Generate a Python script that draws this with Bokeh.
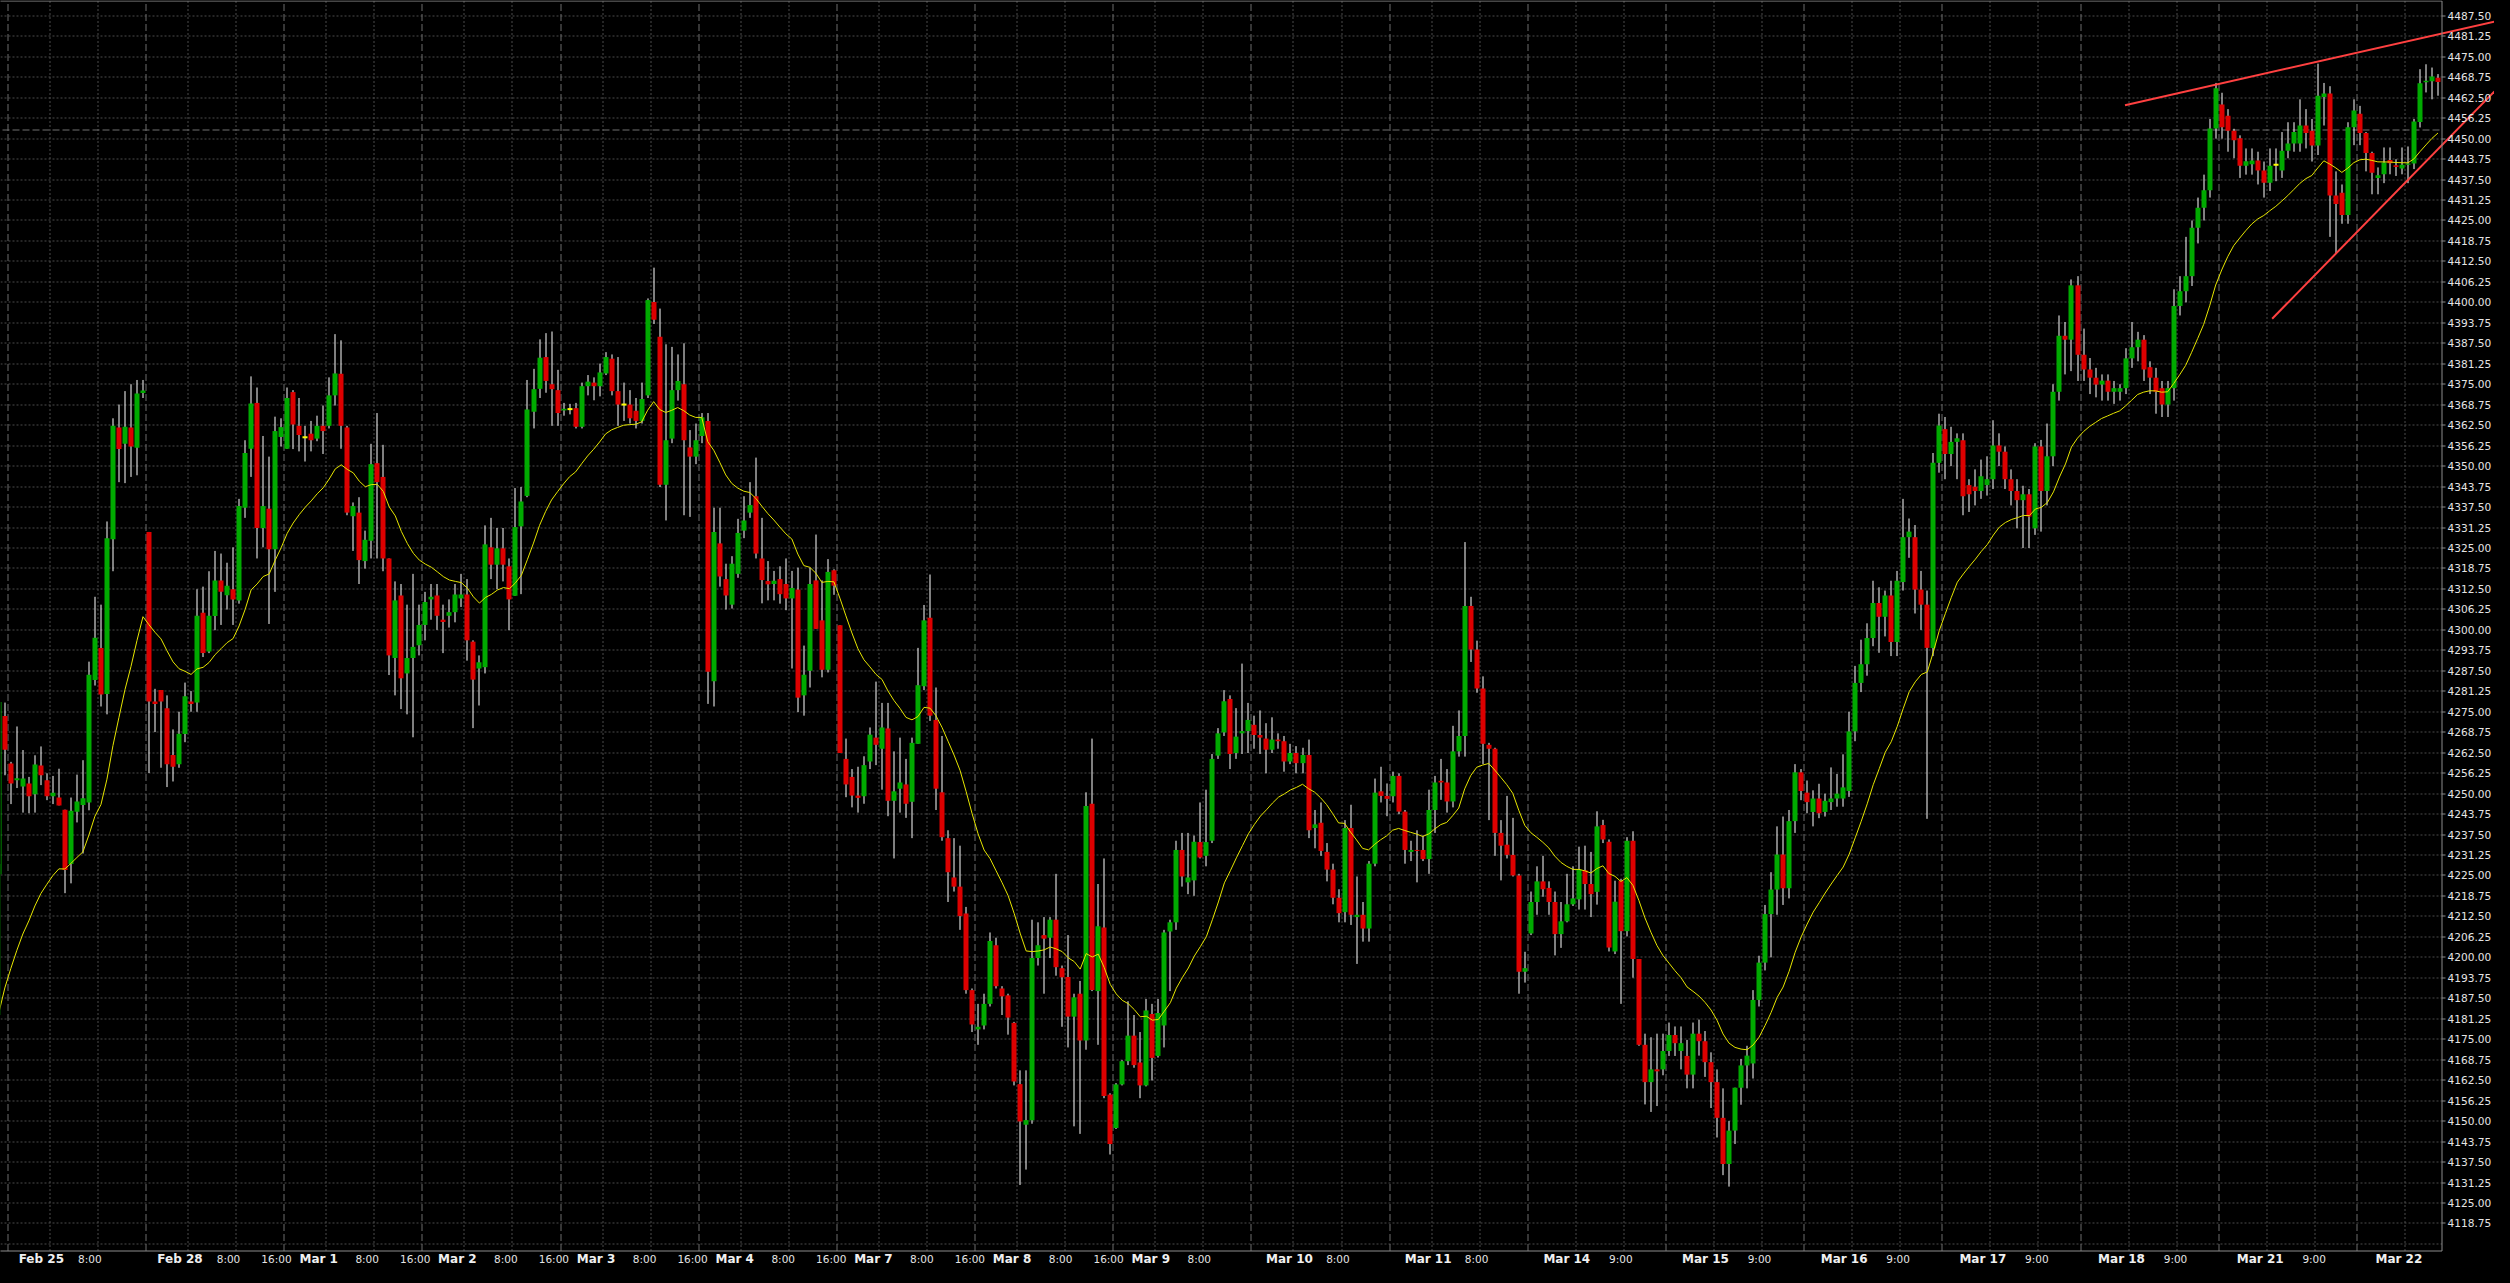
import numpy as np
from bokeh.plotting import figure
from bokeh.models import Range1d
from bokeh.core.properties import value
from bokeh.embed import file_html
from bokeh.resources import INLINE

# ---------------- data (hourly candles, one row per trading day) ----------------
opens = [
    4182.4, 4225.4, 4273.7,
    4259.2, 4254.1, 4252.2, 4253.1, 4249.8, 4258.6, 4254.1, 4249.2, 4248.8, 4245.1, 4228.5, 4244.5, 4246.5, 4247.3, 4284.7, 4294.5, 4280.4, 4327.7, 4361.8, 4356.8, 4361.8, 4355.6, 4372.3,
    4329.9, 4278.1, 4281.6, 4276.1, 4261.8, 4259.0, 4268.2, 4278.1, 4277.8, 4305.2, 4293.4, 4304.2, 4315.1, 4310.6, 4312.4, 4309.0, 4337.3, 4355.3, 4369.3, 4331.1, 4337.0, 4324.6, 4358.9,
    4355.3, 4372.6, 4362.3, 4358.8, 4359.9, 4358.4, 4362.3, 4362.3, 4371.6, 4378.2, 4361.8, 4334.7, 4335.8, 4321.0, 4327.2, 4350.9, 4346.7, 4321.8, 4291.4, 4310.5, 4286.7, 4291.4, 4295.3,
    4301.5, 4309.3, 4310.5, 4303.1, 4304.3, 4305.4, 4309.6, 4310.8, 4296.4, 4288.2, 4288.6, 4325.2, 4319.9, 4324.9, 4319.4, 4310.4, 4331.6, 4340.9, 4366.6, 4373.6, 4383.3, 4375.0, 4373.2,
    4367.0, 4367.4, 4367.7, 4362.0, 4374.4, 4375.5, 4374.4, 4378.3, 4382.8, 4372.9, 4368.8, 4368.8, 4366.9, 4363.8, 4371.6, 4400.1, 4389.5, 4344.3, 4358.4, 4373.2, 4375.0, 4355.7, 4352.9,
    4359.2, 4363.8, 4284.3, 4326.4, 4315.5, 4307.7, 4317.1, 4330.3, 4335.8, 4340.8, 4321.8, 4314.9, 4314.0, 4315.5, 4314.0, 4309.6, 4312.3, 4280.0, 4287.5, 4315.1, 4302.9, 4287.8, 4318.2,
    4301.4, 4260.6, 4255.1, 4249.4, 4249.2, 4259.8, 4267.1, 4263.7, 4269.9, 4247.8, 4251.5, 4252.8, 4247.5, 4265.2, 4282.8, 4303.7, 4272.5, 4250.4, 4236.4, 4224.4, 4221.6, 4213.4, 4190.0,
    4178.0, 4179.2, 4185.8, 4203.7, 4190.5, 4188.4, 4180.0, 4161.3, 4148.9, 4150.3, 4199.8, 4206.8, 4206.0, 4211.5, 4196.7, 4194.0, 4181.9, 4188.9, 4174.6, 4246.9, 4189.7, 4209.1, 4158.1,
    4147.9, 4161.2, 4168.3, 4176.1, 4167.9, 4160.9, 4182.7, 4169.9, 4179.2, 4207.9, 4210.7, 4232.8, 4222.9, 4223.5, 4235.2, 4231.0, 4235.6, 4261.6, 4268.7, 4278.9, 4262.4, 4268.4, 4269.1,
    4271.0, 4267.9, 4266.8, 4263.4, 4266.5, 4266.0, 4259.8, 4262.4, 4259.3, 4261.8, 4239.5, 4241.1, 4232.2, 4226.8, 4218.2, 4213.8, 4239.5, 4212.3, 4213.0, 4208.8, 4228.6, 4250.7, 4249.3,
    4249.2, 4255.4, 4244.5, 4232.2, 4232.8, 4232.8, 4230.0, 4245.0, 4253.9, 4253.4, 4247.6, 4262.9, 4267.6, 4307.3, 4294.0, 4282.1, 4264.9, 4263.7, 4238.0, 4234.4, 4231.3, 4225.0, 4195.6,
    4207.3, 4216.9, 4223.2, 4221.2, 4216.9, 4207.1, 4211.0, 4216.2, 4217.7, 4226.6, 4222.4, 4220.0, 4240.4, 4235.3, 4201.8, 4223.4, 4208.0, 4235.6, 4199.5, 4173.3, 4161.9, 4165.8, 4165.8,
    4171.4, 4176.3, 4171.4, 4169.9, 4164.2, 4176.7, 4174.4, 4168.0, 4161.9, 4151.0, 4136.9, 4147.1, 4160.2, 4167.0, 4167.6, 4187.0, 4198.4, 4213.2, 4220.7, 4231.4, 4221.1, 4241.6, 4256.5,
    4250.3, 4244.4, 4248.5, 4244.4, 4247.4, 4248.5, 4248.5, 4250.8, 4269.0, 4283.8, 4289.5, 4297.5, 4308.2, 4304.0, 4310.5, 4296.3, 4314.6, 4328.3, 4328.3, 4312.3, 4307.7, 4294.5, 4351.0,
    4361.3, 4353.7, 4357.4, 4357.9, 4344.2, 4343.7, 4342.4, 4344.2, 4346.0, 4356.3, 4354.4, 4346.0, 4342.4, 4339.6, 4341.4, 4331.0, 4356.0, 4342.4, 4353.0, 4372.7, 4389.8, 4388.6, 4405.2,
    4384.0, 4379.5, 4377.0, 4374.9, 4376.1, 4372.7, 4372.7, 4373.8, 4382.9, 4386.3, 4388.6, 4380.2, 4377.0, 4373.8, 4368.8, 4373.8, 4398.9, 4403.4, 4408.0, 4422.8, 4428.9, 4434.2, 4453.1,
    4460.4, 4457.0, 4452.4, 4450.1, 4441.7, 4442.2, 4443.3, 4440.3, 4436.5, 4442.0, 4440.3, 4446.3, 4448.5, 4448.5, 4454.0, 4452.4, 4447.9, 4462.7, 4463.8, 4432.6, 4433.5, 4426.7, 4453.5,
    4457.6, 4451.7, 4445.6, 4438.0, 4439.1, 4443.5, 4441.9, 4440.9, 4442.0, 4442.4, 4455.1, 4467.2, 4467.5, 4468.6,
]

highs = [
    4232.5, 4282.1, 4277.8,
    4259.7, 4270.5, 4263.3, 4255.1, 4261.7, 4264.4, 4256.2, 4255.4, 4257.6, 4245.1, 4248.8, 4255.8, 4260.2, 4290.3, 4310.1, 4307.7, 4333.1, 4364.6, 4368.8, 4372.9, 4375.0, 4376.3, 4376.3,
    4329.9, 4282.0, 4281.6, 4280.0, 4269.6, 4275.0, 4283.9, 4281.3, 4312.4, 4313.2, 4317.9, 4324.1, 4323.3, 4320.5, 4325.2, 4340.0, 4357.9, 4377.4, 4374.0, 4359.2, 4352.9, 4365.1, 4364.6,
    4374.0, 4373.2, 4370.8, 4362.3, 4363.8, 4365.4, 4368.5, 4377.1, 4390.3, 4388.4, 4362.3, 4338.9, 4340.5, 4330.3, 4356.8, 4366.2, 4356.5, 4321.8, 4314.8, 4314.0, 4307.7, 4317.1, 4307.7,
    4311.6, 4314.0, 4314.0, 4307.7, 4309.3, 4314.0, 4317.1, 4315.5, 4296.8, 4292.2, 4331.9, 4334.2, 4331.1, 4331.1, 4321.8, 4343.3, 4343.6, 4376.3, 4379.7, 4388.7, 4390.6, 4391.1, 4379.4,
    4369.3, 4369.0, 4369.3, 4375.5, 4377.8, 4377.1, 4381.3, 4384.8, 4384.1, 4383.3, 4375.5, 4373.2, 4370.8, 4375.5, 4401.2, 4410.6, 4398.1, 4387.2, 4386.4, 4384.1, 4387.5, 4361.0, 4363.0,
    4366.2, 4366.2, 4337.3, 4337.3, 4320.2, 4322.5, 4333.9, 4340.8, 4345.1, 4352.6, 4334.2, 4321.0, 4318.0, 4319.4, 4321.8, 4318.0, 4319.0, 4295.2, 4319.0, 4329.1, 4315.1, 4321.6, 4318.5,
    4301.4, 4266.8, 4257.5, 4258.2, 4261.4, 4270.2, 4284.2, 4277.7, 4277.7, 4262.9, 4267.1, 4260.6, 4267.1, 4294.5, 4307.6, 4316.9, 4282.4, 4267.6, 4238.8, 4236.4, 4234.1, 4215.4, 4190.5,
    4185.8, 4188.9, 4207.6, 4206.0, 4191.2, 4188.9, 4180.3, 4165.5, 4165.5, 4211.5, 4210.7, 4212.3, 4212.3, 4225.5, 4197.5, 4206.8, 4188.9, 4192.8, 4250.4, 4266.8, 4222.4, 4230.2, 4158.5,
    4161.6, 4168.6, 4186.6, 4182.4, 4177.2, 4187.3, 4185.8, 4187.3, 4208.4, 4211.5, 4235.6, 4238.0, 4238.0, 4237.2, 4247.3, 4251.2, 4262.1, 4270.0, 4281.6, 4280.0, 4276.1, 4289.7, 4277.7,
    4273.8, 4275.4, 4271.5, 4273.3, 4268.4, 4267.6, 4265.2, 4264.5, 4264.0, 4266.5, 4245.0, 4247.3, 4234.9, 4228.6, 4220.8, 4241.9, 4246.6, 4224.7, 4216.9, 4229.4, 4254.6, 4258.2, 4253.1,
    4256.7, 4256.2, 4245.0, 4235.6, 4238.8, 4237.2, 4251.2, 4255.4, 4260.6, 4257.5, 4270.7, 4275.4, 4326.8, 4310.1, 4296.7, 4285.8, 4265.5, 4264.0, 4241.9, 4249.3, 4242.6, 4225.5, 4201.7,
    4220.1, 4227.8, 4231.0, 4223.2, 4220.1, 4216.9, 4225.5, 4227.8, 4233.8, 4234.1, 4232.2, 4244.6, 4242.0, 4236.0, 4223.4, 4224.0, 4236.7, 4238.5, 4199.5, 4176.7, 4175.6, 4176.7, 4176.7,
    4180.1, 4178.9, 4178.9, 4174.8, 4180.1, 4181.0, 4177.5, 4171.0, 4165.8, 4160.0, 4150.0, 4160.2, 4169.0, 4173.0, 4190.0, 4200.5, 4216.0, 4226.0, 4240.0, 4243.0, 4245.0, 4259.0, 4257.5,
    4254.0, 4251.0, 4253.0, 4250.0, 4258.0, 4256.0, 4262.0, 4275.0, 4289.0, 4297.0, 4302.0, 4315.0, 4313.0, 4312.0, 4315.0, 4318.0, 4340.0, 4334.0, 4332.0, 4318.0, 4312.0, 4354.0, 4366.0,
    4365.0, 4362.0, 4360.0, 4360.0, 4346.0, 4349.0, 4352.0, 4353.0, 4364.0, 4360.0, 4356.0, 4349.0, 4346.0, 4344.0, 4343.0, 4357.0, 4358.0, 4363.0, 4375.0, 4396.0, 4394.0, 4407.0, 4408.0,
    4392.0, 4383.0, 4380.0, 4378.0, 4378.0, 4376.0, 4375.0, 4386.0, 4394.0, 4391.0, 4390.0, 4382.0, 4380.0, 4376.0, 4376.0, 4404.0, 4408.0, 4420.0, 4425.0, 4432.0, 4439.0, 4456.0, 4467.0,
    4464.0, 4459.0, 4453.0, 4451.0, 4447.0, 4447.0, 4446.0, 4443.0, 4447.0, 4447.0, 4452.0, 4455.0, 4455.0, 4462.0, 4459.0, 4456.0, 4472.9, 4467.0, 4466.0, 4440.0, 4436.0, 4455.0, 4462.0,
    4460.0, 4452.0, 4446.0, 4441.2, 4447.3, 4447.3, 4443.7, 4447.3, 4447.6, 4456.0, 4471.2, 4472.7, 4471.7, 4469.7,
]

lows = [
    4180.0, 4224.0, 4255.6,
    4246.8, 4251.7, 4244.2, 4244.0, 4244.2, 4252.6, 4248.0, 4246.8, 4246.4, 4219.6, 4222.6, 4241.2, 4231.7, 4244.9, 4283.0, 4276.6, 4274.2, 4317.9, 4345.1, 4344.8, 4346.7, 4347.2, 4370.8,
    4256.3, 4268.8, 4257.9, 4252.0, 4253.7, 4257.9, 4265.7, 4275.0, 4275.0, 4291.7, 4292.9, 4299.9, 4301.5, 4306.2, 4301.5, 4308.0, 4334.2, 4346.7, 4321.8, 4325.2, 4301.8, 4311.6, 4356.0,
    4355.3, 4355.2, 4354.5, 4351.4, 4354.5, 4357.6, 4353.7, 4361.5, 4368.5, 4355.3, 4335.0, 4324.1, 4314.0, 4318.7, 4321.8, 4321.8, 4317.9, 4286.2, 4280.0, 4275.8, 4274.2, 4267.2, 4292.2,
    4296.8, 4303.1, 4300.0, 4292.9, 4300.7, 4302.3, 4307.0, 4290.6, 4270.0, 4276.9, 4286.7, 4315.5, 4312.4, 4314.8, 4299.9, 4310.4, 4310.9, 4340.5, 4361.5, 4370.8, 4372.4, 4362.3, 4362.3,
    4365.4, 4365.8, 4361.5, 4361.5, 4371.6, 4370.1, 4371.3, 4377.8, 4371.6, 4362.3, 4363.8, 4363.0, 4361.5, 4363.0, 4370.8, 4393.4, 4343.6, 4333.4, 4357.0, 4370.0, 4335.0, 4334.5, 4350.6,
    4357.0, 4277.4, 4276.6, 4313.2, 4306.2, 4306.5, 4315.9, 4328.0, 4334.2, 4321.8, 4308.1, 4309.0, 4309.0, 4308.0, 4306.0, 4288.2, 4274.9, 4273.8, 4282.4, 4300.3, 4285.5, 4287.0, 4310.7,
    4262.4, 4248.9, 4245.8, 4244.2, 4246.9, 4257.5, 4258.7, 4251.2, 4243.1, 4230.2, 4244.2, 4242.6, 4236.4, 4265.2, 4281.6, 4272.2, 4245.0, 4235.6, 4216.9, 4220.1, 4208.4, 4188.9, 4177.2,
    4173.3, 4178.0, 4185.0, 4190.5, 4182.4, 4176.4, 4160.9, 4130.5, 4135.2, 4149.2, 4197.5, 4188.9, 4199.8, 4194.4, 4178.8, 4172.5, 4148.4, 4146.1, 4171.8, 4189.7, 4173.3, 4157.0, 4139.8,
    4147.6, 4160.9, 4167.1, 4166.3, 4157.0, 4160.6, 4162.4, 4169.4, 4172.5, 4189.7, 4208.4, 4221.6, 4219.3, 4218.8, 4230.2, 4227.8, 4234.9, 4260.6, 4267.6, 4257.5, 4260.6, 4262.1, 4262.4,
    4263.7, 4262.1, 4256.2, 4262.4, 4263.7, 4256.7, 4259.0, 4256.2, 4256.2, 4236.4, 4233.3, 4231.0, 4223.2, 4216.2, 4210.7, 4210.7, 4209.9, 4198.0, 4204.8, 4204.8, 4227.8, 4247.3, 4243.1,
    4247.3, 4243.7, 4228.6, 4229.4, 4222.9, 4229.4, 4225.5, 4238.0, 4248.1, 4244.2, 4245.8, 4261.3, 4261.3, 4290.2, 4280.8, 4259.0, 4241.9, 4231.0, 4223.5, 4230.2, 4224.7, 4188.9, 4192.3,
    4206.8, 4213.0, 4218.5, 4213.0, 4200.6, 4202.9, 4210.7, 4215.7, 4214.6, 4214.6, 4212.3, 4216.1, 4234.9, 4201.8, 4201.0, 4185.8, 4206.4, 4193.8, 4173.0, 4155.1, 4152.8, 4154.6, 4164.0,
    4169.9, 4169.9, 4165.8, 4160.0, 4160.0, 4170.0, 4163.5, 4154.0, 4145.0, 4133.5, 4130.0, 4143.0, 4155.0, 4160.0, 4163.0, 4185.0, 4196.0, 4200.0, 4213.0, 4216.0, 4218.0, 4238.0, 4248.0,
    4244.0, 4240.0, 4242.5, 4243.0, 4245.0, 4246.0, 4246.0, 4249.0, 4266.0, 4281.0, 4286.0, 4295.0, 4293.0, 4298.0, 4292.0, 4292.0, 4312.0, 4322.0, 4305.0, 4300.0, 4242.3, 4292.0, 4348.0,
    4346.0, 4350.0, 4346.0, 4335.0, 4336.0, 4338.0, 4340.0, 4341.0, 4343.0, 4350.0, 4343.0, 4338.0, 4331.0, 4325.0, 4325.0, 4329.0, 4330.0, 4338.0, 4350.0, 4370.0, 4378.0, 4379.0, 4376.0,
    4376.0, 4372.0, 4371.0, 4370.0, 4370.0, 4369.0, 4370.0, 4372.0, 4380.0, 4382.0, 4376.0, 4372.0, 4366.0, 4365.0, 4365.0, 4370.0, 4396.0, 4400.0, 4405.0, 4418.0, 4425.0, 4432.0, 4450.0,
    4450.0, 4446.0, 4444.0, 4438.0, 4439.0, 4439.0, 4436.0, 4432.0, 4434.0, 4437.0, 4438.0, 4444.0, 4446.0, 4446.0, 4447.0, 4443.0, 4445.0, 4454.0, 4420.0, 4415.0, 4424.0, 4424.0, 4448.0,
    4448.0, 4440.0, 4433.0, 4433.0, 4436.4, 4439.1, 4438.6, 4439.1, 4436.4, 4440.7, 4453.4, 4464.1, 4462.0, 4463.1,
]

closes = [
    4228.5, 4278.0, 4263.4,
    4253.1, 4254.7, 4254.6, 4249.2, 4258.9, 4255.6, 4249.2, 4250.3, 4246.4, 4226.7, 4244.8, 4247.6, 4248.6, 4286.3, 4297.6, 4280.3, 4328.0, 4362.3, 4355.2, 4362.0, 4356.0, 4372.2, 4373.1,
    4278.1, 4277.4, 4278.1, 4259.0, 4258.2, 4268.3, 4279.7, 4277.4, 4304.3, 4292.9, 4304.3, 4315.1, 4311.6, 4313.5, 4309.3, 4337.8, 4354.0, 4369.1, 4331.1, 4337.8, 4324.6, 4360.7, 4361.9,
    4370.8, 4362.7, 4359.5, 4358.8, 4357.9, 4362.3, 4360.7, 4371.6, 4378.3, 4362.3, 4335.8, 4337.8, 4321.3, 4327.5, 4350.6, 4345.1, 4321.8, 4292.2, 4309.0, 4285.2, 4291.4, 4294.8, 4301.5,
    4308.5, 4310.1, 4304.3, 4302.4, 4305.4, 4310.8, 4310.8, 4296.8, 4284.8, 4290.1, 4326.1, 4319.9, 4324.9, 4319.9, 4309.3, 4331.4, 4339.2, 4367.3, 4373.5, 4383.1, 4376.0, 4373.5, 4366.2,
    4367.5, 4367.4, 4362.0, 4374.4, 4375.8, 4374.4, 4378.6, 4383.3, 4372.9, 4368.8, 4368.8, 4364.6, 4363.8, 4370.5, 4400.7, 4394.7, 4344.3, 4357.9, 4373.2, 4376.0, 4357.9, 4352.9, 4357.9,
    4364.9, 4287.2, 4329.9, 4316.3, 4310.5, 4320.2, 4329.6, 4333.4, 4338.1, 4323.3, 4315.2, 4313.9, 4315.0, 4310.9, 4309.6, 4312.8, 4279.3, 4286.3, 4314.0, 4300.3, 4287.8, 4317.7, 4313.5,
    4262.4, 4252.8, 4249.4, 4248.7, 4258.7, 4268.0, 4264.9, 4270.2, 4247.8, 4250.7, 4253.4, 4246.9, 4265.5, 4283.1, 4302.9, 4273.8, 4251.5, 4236.7, 4226.0, 4221.6, 4212.6, 4190.0, 4179.5,
    4178.8, 4185.8, 4205.0, 4191.2, 4188.1, 4181.6, 4162.1, 4149.9, 4150.3, 4199.8, 4203.7, 4205.7, 4211.5, 4197.0, 4193.9, 4181.9, 4187.8, 4174.6, 4246.2, 4190.0, 4209.5, 4157.7, 4143.0,
    4161.2, 4168.3, 4176.1, 4167.1, 4160.9, 4183.8, 4169.3, 4183.0, 4207.6, 4210.7, 4232.8, 4224.7, 4224.4, 4235.3, 4230.5, 4235.2, 4260.6, 4268.4, 4278.2, 4262.1, 4267.4, 4269.1, 4272.5,
    4267.9, 4267.1, 4263.4, 4266.5, 4266.0, 4259.8, 4262.4, 4259.3, 4261.8, 4238.8, 4240.6, 4232.5, 4226.8, 4218.2, 4213.5, 4239.5, 4213.0, 4213.0, 4208.8, 4228.6, 4250.3, 4249.3, 4248.4,
    4255.4, 4244.5, 4232.8, 4232.8, 4232.5, 4230.0, 4245.0, 4253.4, 4253.4, 4247.6, 4262.9, 4267.6, 4307.3, 4294.0, 4282.1, 4265.2, 4263.7, 4238.0, 4234.1, 4231.3, 4225.0, 4195.6, 4196.7,
    4216.9, 4223.2, 4220.8, 4216.9, 4207.1, 4211.0, 4216.2, 4218.0, 4226.8, 4222.4, 4219.3, 4240.0, 4236.0, 4203.0, 4217.0, 4208.0, 4235.6, 4199.5, 4173.3, 4161.9, 4165.8, 4165.2, 4171.4,
    4176.3, 4173.8, 4173.8, 4164.2, 4176.7, 4174.4, 4168.0, 4161.9, 4151.0, 4136.9, 4147.1, 4160.2, 4167.0, 4170.0, 4187.0, 4198.4, 4213.2, 4220.7, 4231.4, 4221.1, 4241.6, 4256.5, 4250.8,
    4247.4, 4248.5, 4244.0, 4247.8, 4248.5, 4250.0, 4251.9, 4269.0, 4283.8, 4289.5, 4297.5, 4308.2, 4304.0, 4310.5, 4296.3, 4315.0, 4328.3, 4330.0, 4312.3, 4307.7, 4294.5, 4351.0, 4362.4,
    4353.7, 4357.4, 4358.5, 4340.8, 4341.4, 4342.4, 4346.9, 4346.0, 4356.3, 4354.4, 4346.0, 4342.4, 4339.6, 4341.4, 4334.6, 4356.0, 4342.4, 4353.0, 4372.7, 4389.8, 4388.6, 4405.2, 4384.0,
    4379.5, 4377.0, 4374.9, 4376.1, 4372.7, 4373.8, 4373.8, 4382.9, 4386.3, 4388.6, 4379.5, 4377.0, 4372.7, 4368.8, 4373.8, 4398.9, 4403.4, 4408.0, 4422.8, 4428.9, 4434.2, 4453.1, 4465.4,
    4453.5, 4452.4, 4449.5, 4441.7, 4443.1, 4443.3, 4440.3, 4436.5, 4441.7, 4442.0, 4446.3, 4448.5, 4452.0, 4454.0, 4451.7, 4447.9, 4463.1, 4463.8, 4432.6, 4430.0, 4426.7, 4453.5, 4458.6,
    4451.7, 4445.6, 4439.6, 4438.8, 4442.7, 4442.5, 4441.3, 4442.0, 4442.4, 4455.2, 4466.9, 4467.7, 4469.0, 4467.3,
]

MA_PERIOD = 20          # exponential moving average shown in yellow
MA_SEED = 4173.0        # indicator value at the first visible bar

day_names = ["Feb 25", "Feb 28", "Mar 1", "Mar 2", "Mar 3", "Mar 4", "Mar 7", "Mar 8", "Mar 9",
             "Mar 10", "Mar 11", "Mar 14", "Mar 15", "Mar 16", "Mar 17", "Mar 18", "Mar 21", "Mar 22"]
hour_names = [["8:00"]] + [["8:00", "16:00"]] * 7 + [["8:00"]] * 3 + [["9:00"]] * 6 + [[]]

price_ticks = [4118.75 + 6.25 * k for k in range(60)]
grid_prices = [4112.50 + 6.25 * k for k in range(61)]

hline_price = 4452.6
trend_upper = [(354.9, 4460.2), (417.75, 4486.3)]   # (bar, price)
trend_lower = [(379.4, 4395.0), (416.4, 4464.4)]

# ---------------- layout helpers (page pixels -> data) ----------------
PX_BAR = 6.0078     # pixels per bar
PX_PT = 3.275       # pixels per index point
X0 = 0.3            # page x of bar 0
YREF = 23.3         # page y of 4487.50
W, H = 2494, 1267

def px2x(X):
    return (X - X0) / PX_BAR

def py2p(Y):
    return 4487.5 - (Y - YREF) / PX_PT

def p2py(P):
    return YREF + (4487.5 - P) * PX_PT

def snap_price(P):
    return py2p(np.floor(p2py(np.asarray(P, dtype=float))) + 0.5)

XL, XR = px2x(0), px2x(2449.5)
YB, YT = py2p(1258.5), py2p(8.5)

p = figure(width=W, height=H, x_range=Range1d(px2x(8), px2x(8 + W)),
           y_range=Range1d(py2p(8 + H), py2p(8)), x_axis_type=None, y_axis_type=None,
           output_backend="svg", toolbar_location=None, min_border=0,
           background_fill_color="#000000", border_fill_color="#000000", outline_line_color=None)
p.grid.visible = False

# horizontal dotted grid
gy = snap_price(grid_prices)
p.segment(x0=[XL] * len(gy), x1=[XR] * len(gy), y0=gy, y1=gy,
          line_color="#4a4a4a", line_width=1, line_dash="2 2")

# vertical grid + day separators
day_lines = [2.5 + 23 * k for k in range(len(day_names))]
vgrid = []
for k, dl in enumerate(day_lines):
    offs = (7, 15) if k <= 10 else (8, 16)
    for o_ in offs:
        if dl + o_ < XR:
            vgrid.append(dl + o_)

def snap_x(xs):
    xs = np.asarray(xs, dtype=float)
    return px2x(np.floor(X0 + PX_BAR * xs) + 0.5)

vg = snap_x(vgrid)
dl_s = snap_x(day_lines)
p.segment(x0=vg, x1=vg, y0=[YB] * len(vg), y1=[YT] * len(vg),
          line_color="#4a4a4a", line_width=1, line_dash="2 2")
p.segment(x0=dl_s, x1=dl_s, y0=[YB] * len(dl_s), y1=[YT] * len(dl_s),
          line_color="#6c6c6c", line_width=1, line_dash="7 3")

# horizontal level line
hl = float(snap_price([hline_price])[0])
p.segment(x0=[XL], x1=[XR], y0=[hl], y1=[hl], line_color="#707070", line_width=1, line_dash="7 3")

# candles (snapped to whole pixels so wicks stay crisp)
n = len(closes)
idx = np.arange(n)
xc = snap_x(idx)
o = np.array(opens[:n]); c = np.array(closes[:n]); h = np.array(highs[:n]); l = np.array(lows[:n])
p.segment(x0=xc, x1=xc, y0=l, y1=h, line_color="#ffffff", line_width=1)

min_h = 1.0 / PX_PT
top = np.maximum(o, c); bot = np.minimum(o, c)
mid = (top + bot) / 2
small = (top - bot) < min_h
top = np.where(small, mid + min_h / 2, top)
bot = np.where(small, mid - min_h / 2, bot)
bw = 5.0 / PX_BAR
up = c > o
dn = c < o
dj = c == o
p.vbar(x=xc[up], width=bw, top=top[up], bottom=bot[up], fill_color="#00aa00", line_color=None)
p.vbar(x=xc[dn], width=bw, top=top[dn], bottom=bot[dn], fill_color="#dd0000", line_color=None)
p.segment(x0=xc[dj] - bw / 2, x1=xc[dj] + bw / 2, y0=c[dj], y1=c[dj],
          line_color="#ffff00", line_width=2)

# EMA
alpha = 2.0 / (MA_PERIOD + 1)
ema = [MA_SEED]
for v in closes[1:n]:
    ema.append(ema[-1] + alpha * (v - ema[-1]))
p.line(idx, ema, line_color="#e6e600", line_width=1)

# trend lines
for tl in (trend_upper, trend_lower):
    p.line([tl[0][0], tl[1][0]], [tl[0][1], tl[1][1]], line_color="#ff4040", line_width=2)

# frame border
p.segment(x0=[XL, XR, XL], x1=[XR, XR, XR], y0=[YB, YB, YT], y1=[YB, YT, YT],
          line_color="#8c8c8c", line_width=1)

# right price scale
pt = snap_price(price_ticks)
p.segment(x0=[XR] * len(pt), x1=[px2x(2453)] * len(pt),
          y0=pt, y1=pt, line_color="#8c8c8c", line_width=1)
p.text(x=[px2x(2455)] * len(price_ticks), y=price_ticks, text=["%.2f" % v for v in price_ticks],
       text_font=value("DejaVu Sans"), text_font_size="10.6px", text_color="#e4e4e4",
       text_align="left", text_baseline="middle")

# time scale
ylab = py2p(1266.5)
dx, dtext = [], []
hx, htext = [], []
base = {"8:00": 82.0, "16:00": 130.0, "9:00": 87.5}
for k, (dname, hrs) in enumerate(zip(day_names, hour_names)):
    line_px = X0 + PX_BAR * day_lines[k]
    dx.append(px2x(line_px + 33.5 + 0.5 * k)); dtext.append(dname)
    for hh in hrs:
        hx.append(px2x(line_px + base[hh] + 0.5 * k)); htext.append(hh)
p.text(x=dx, y=[ylab] * len(dx), text=dtext, text_font=value("DejaVu Sans"),
       text_font_size="12px", text_font_style="bold", text_color="#f0f0f0",
       text_align="center", text_baseline="middle")
p.text(x=hx, y=[ylab] * len(hx), text=htext, text_font=value("DejaVu Sans"),
       text_font_size="10.5px", text_color="#e4e4e4", text_align="center", text_baseline="middle")

html = file_html(p, INLINE, title="ES H1")
html = html.replace("</head>", "<style>html, body {background-color: #000000;}</style></head>", 1)
open("out.html", "w").write(html)
